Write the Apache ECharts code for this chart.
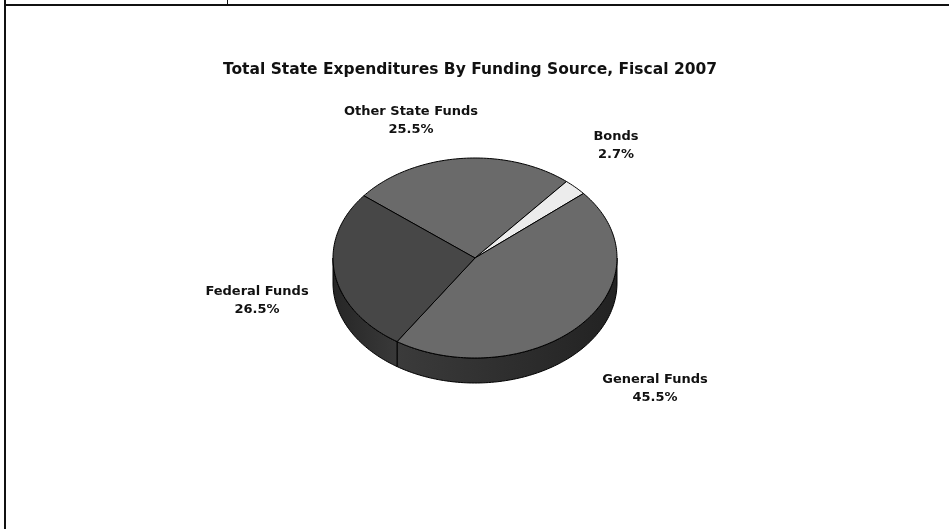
<!DOCTYPE html>
<html>
<head>
<meta charset="utf-8">
<script src="https://cdn.jsdelivr.net/npm/echarts@6/dist/echarts.min.js"></script>
<style>
  html, body { margin: 0; padding: 0; background: #fff; }
  #main { width: 949px; height: 529px; }
</style>
</head>
<body>
<div id="main"></div>
<script>
// data
const categories = ['Other State Funds', 'Bonds', 'General Funds', 'Federal Funds'];
const shares = [25.5, 2.7, 45.5, 26.5];
const shareLabels = ['25.5%', '2.7%', '45.5%', '26.5%'];

// look
const topColors = ['#6a6a6a', '#ececec', '#6a6a6a', '#474747'];
const sideColors = [
    ['#3a3a3a', '#2a2a2a'],
    ['#cfcfcf', '#bdbdbd'],
    ['#3b3b3b', '#222222'],
    ['#262626', '#393939']
];
const labelAnchors = [[411, 103], [616, 128], [655, 371], [257, 283]];

const cx = 475, cy = 258, rx = 142, ry = 100, depth = 25;
const startDeg = 141.5;
const total = shares.reduce((a, b) => a + b, 0);

// cumulative angles, clockwise from start
let acc = startDeg * Math.PI / 180;
const angles = shares.map(v => {
    const a1 = acc;
    acc -= v / total * Math.PI * 2;
    return [a1, acc];
});

function rim(t, off) {
    return [cx + rx * Math.cos(t), cy - ry * Math.sin(t) + (off || 0)];
}

function arcPoints(from, to, off) {
    let pts = [];
    const n = Math.max(2, Math.ceil(Math.abs(from - to) / 0.02));
    for (let i = 0; i <= n; i++) {
        pts.push(rim(from + (to - from) * i / n, off));
    }
    return pts;
}

// front part of the side wall (sin < 0)
function frontRanges(hi, lo) {
    let res = [];
    [[-Math.PI, 0], [Math.PI, 2 * Math.PI], [-3 * Math.PI, -2 * Math.PI]].forEach(r => {
        const a = Math.max(lo, r[0]), b = Math.min(hi, r[1]);
        if (b > a) res.push([b, a]);
    });
    return res;
}

let chart = echarts.init(document.getElementById('main'));

let option = {
    animation: false,
    title: {
        text: 'Total State Expenditures By Funding Source, Fiscal 2007',
        left: 465,
        top: 57,
        textAlign: 'center',
        textStyle: {
            fontFamily: 'DejaVu Sans',
            fontWeight: 'bold',
            fontSize: 15.5,
            color: '#111'
        }
    },
    graphic: [
        {type: 'rect', shape: {x: 4, y: 0, width: 2, height: 529}, style: {fill: '#111'}},
        {type: 'rect', shape: {x: 4, y: 4, width: 945, height: 2}, style: {fill: '#111'}},
        {type: 'rect', shape: {x: 227, y: 0, width: 1, height: 5}, style: {fill: '#111'}}
    ],
    series: [{
        type: 'custom',
        coordinateSystem: 'none',
        data: shares.map((v, i) => [v, i]),
        renderItem: (params, api) => {
            const i = api.value(1);
            const [a1, a2] = angles[i];
            let children = [];
            frontRanges(a1, a2).forEach(([hi, lo]) => {
                const pts = arcPoints(hi, lo, 0).concat(arcPoints(lo, hi, depth));
                children.push({
                    type: 'polygon',
                    z2: 1,
                    shape: {points: pts},
                    style: {
                        fill: new echarts.graphic.LinearGradient(0, 0, 1, 0, [
                            {offset: 0, color: sideColors[i][0]},
                            {offset: 1, color: sideColors[i][1]}
                        ]),
                        stroke: '#000',
                        lineWidth: 1
                    }
                });
            });
            children.push({
                type: 'polygon',
                z2: 2,
                shape: {points: [[cx, cy]].concat(arcPoints(a1, a2, 0))},
                style: {fill: topColors[i], stroke: '#000', lineWidth: 1}
            });
            children.push({
                type: 'text',
                z2: 3,
                style: {
                    text: categories[i] + '\n' + shareLabels[i],
                    x: labelAnchors[i][0],
                    y: labelAnchors[i][1],
                    align: 'center',
                    verticalAlign: 'top',
                    lineHeight: 18,
                    fontFamily: 'DejaVu Sans',
                    fontWeight: 'bold',
                    fontSize: 13,
                    fill: '#111'
                }
            });
            return {type: 'group', children: children};
        }
    }]
};
chart.setOption(option);
</script>
</body>
</html>
